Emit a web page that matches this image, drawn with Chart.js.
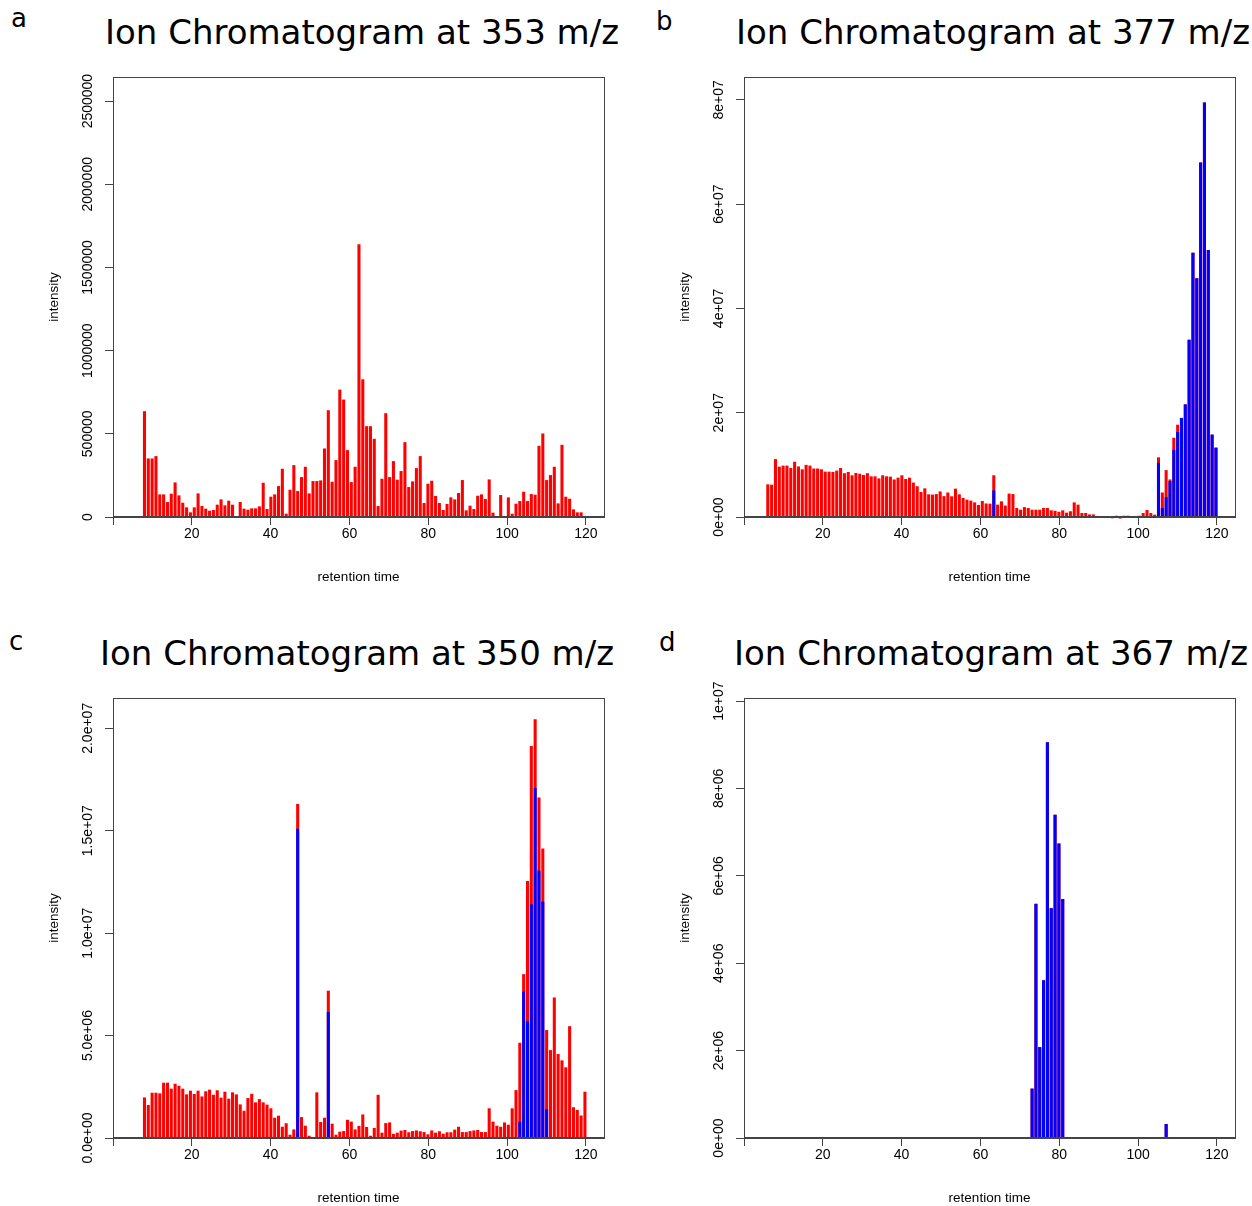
<!DOCTYPE html>
<html>
<head>
<meta charset="utf-8">
<script src="https://cdn.jsdelivr.net/npm/chart.js@4.4.1/dist/chart.umd.min.js"></script>
<style>
  body { margin: 0; width: 1252px; height: 1206px; background: #fff; position: relative; overflow: hidden; }
  canvas { position: absolute; }
  .letter { position: absolute; font: 26px "DejaVu Sans"; color: #000; line-height: normal; }
  .title { position: absolute; width: 600px; text-align: center; font: 34px "DejaVu Sans"; color: #000; white-space: nowrap; line-height: normal; }
</style>
</head>
<body>
<div class="letter" style="left:11px;top:3px">a</div>
<div class="letter" style="left:656px;top:6px">b</div>
<div class="letter" style="left:9px;top:626px">c</div>
<div class="letter" style="left:659px;top:627px">d</div>

<div class="title" style="left:62px;top:12px">Ion Chromatogram at 353 m/z</div>
<div class="title" style="left:693px;top:12px">Ion Chromatogram at 377 m/z</div>
<div class="title" style="left:57px;top:633px">Ion Chromatogram at 350 m/z</div>
<div class="title" style="left:691px;top:633px">Ion Chromatogram at 367 m/z</div>

<canvas id="chartA" width="630" height="585" style="left:0;top:0"></canvas>
<canvas id="chartB" width="621" height="585" style="left:631px;top:0"></canvas>
<canvas id="chartC" width="630" height="585" style="left:0;top:621px"></canvas>
<canvas id="chartD" width="621" height="585" style="left:631px;top:621px"></canvas>

<script>
// scans: one every ~0.972 min starting at ~6.04 min
const scanCount = 118;
const rtStart = 6.04;
const rtStep = 0.972;
const retentionTimes = Array.from({ length: scanCount }, (_, i) => +(rtStart + i * rtStep).toFixed(3));

const xTicks = [0, 20, 40, 60, 80, 100, 120];
const xTickLabels = ['', '20', '40', '60', '80', '100', '120'];

// a: 353 m/z (total only)
const redA = [
  3000, 3000, 636000, 352000, 352000, 366000, 136000, 136000, 90000, 140000,
  208000, 130000, 86000, 58000, 28000, 58000, 142000, 66000, 50000, 38000,
  42000, 74000, 106000, 70000, 98000, 74000, 0, 90000, 50000, 44000,
  52000, 52000, 64000, 206000, 48000, 122000, 136000, 186000, 290000, 20000,
  164000, 312000, 156000, 240000, 302000, 142000, 216000, 216000, 220000, 412000,
  642000, 212000, 342000, 766000, 706000, 402000, 210000, 302000, 1640000, 828000,
  546000, 546000, 470000, 66000, 230000, 624000, 240000, 336000, 224000, 276000,
  450000, 180000, 214000, 294000, 366000, 84000, 200000, 218000, 126000, 84000,
  42000, 78000, 118000, 106000, 144000, 222000, 40000, 68000, 48000, 128000,
  136000, 108000, 226000, 26000, 2000, 132000, -4000, 118000, 20000, 80000,
  96000, 152000, 96000, 138000, 134000, 428000, 502000, 222000, 252000, 302000,
  82000, 434000, 122000, 110000, 46000, 28000, 28000, 0
];
const blueAScans = [];
const blueAValues = [];
const yTicksA = [0, 500000, 1000000, 1500000, 2000000, 2500000];
const yLabelsA = ['0', '500000', '1000000', '1500000', '2000000', '2500000'];
const yMaxA = 2645000;

// b: 377 m/z
const redB = [
  6.27e6, 6.2e6, 11.1e6, 9.66e6, 9.86e6, 9.86e6, 9.4e6, 10.6e6, 9.7e6, 9.15e6,
  10.0e6, 9.86e6, 9.3e6, 9.3e6, 9.15e6, 8.7e6, 8.7e6, 8.64e6, 8.9e6, 9.4e6,
  8.4e6, 8.64e6, 8.0e6, 8.45e6, 8.3e6, 8.06e6, 8.4e6, 7.8e6, 7.8e6, 7.4e6,
  8.0e6, 7.8e6, 7.74e6, 7.2e6, 7.55e6, 8.0e6, 7.3e6, 7.55e6, 6.6e6, 5.9e6,
  4.8e6, 5.5e6, 4.35e6, 4.3e6, 4.4e6, 4.9e6, 4.0e6, 4.7e6, 3.97e6, 5.44e6,
  4.35e6, 3.65e6, 3.33e6, 3.14e6, 2.8e6, 2.3e6, 3.07e6, 2.6e6, 2.56e6, 8.0e6,
  2.37e6, 3.0e6, 2.2e6, 4.5e6, 4.4e6, 1.73e6, 1.4e6, 1.9e6, 1.73e6, 1.4e6,
  1.4e6, 1.4e6, 1.73e6, 1.73e6, 1.28e6, 1.2e6, 1.0e6, 1.28e6, 0.83e6, 1.1e6,
  2.8e6, 2.37e6, 0.77e6, 0.77e6, 0.5e6, 0.5e6, 0.2e6, 0.05e6, -0.2e6, 0.05e6,
  -0.25e6, 0.25e6, -0.3e6, 0.25e6, 0.25e6, 0.2e6, 0.2e6, 0.25e6, 0.77e6, 1.35e6,
  0.77e6, 0.45e6, 11.45e6, 4.7e6, 9.0e6, 7.2e6, 15.2e6, 17.7e6, 19.0e6, 21.6e6,
  34.0e6, 50.7e6, 45.8e6, 68.0e6, 79.5e6, 51.2e6, 15.8e6, 13.3e6
];
const blueBScans = [59, 102, 103, 104, 105, 106, 107, 108, 109, 110, 111, 112, 113, 114, 115, 116, 117];
const blueBValues = [5.1e6, 10.4e6, 1.73e6, 3.8e6, 6.9e6, 12.9e6, 16.3e6, 19.0e6, 21.6e6, 34.0e6, 50.7e6, 45.8e6, 68.0e6, 79.5e6, 51.2e6, 15.8e6, 13.3e6];
const yTicksB = [0, 2e7, 4e7, 6e7, 8e7];
const yLabelsB = ['0e+00', '2e+07', '4e+07', '6e+07', '8e+07'];
const yMaxB = 8.44e7;

// c: 350 m/z
const redC = [
  0, 0, 1.98e6, 1.61e6, 2.21e6, 2.21e6, 2.18e6, 2.70e6, 2.70e6, 2.41e6,
  2.65e6, 2.55e6, 2.41e6, 2.13e6, 2.31e6, 2.15e6, 2.31e6, 2.03e6, 2.28e6, 2.36e6,
  2.11e6, 2.33e6, 1.97e6, 2.26e6, 1.92e6, 2.23e6, 2.13e6, 1.64e6, 1.33e6, 1.95e6,
  2.16e6, 1.74e6, 1.90e6, 1.74e6, 1.63e6, 1.45e6, 0.99e6, 1.09e6, 0.55e6, 0.72e6,
  0.16e6, 0.42e6, 16.3e6, 1.02e6, 0.6e6, 0.11e6, 0, 2.23e6, 0.78e6, 0.99e6,
  7.19e6, 0.7e6, 0.16e6, 0.31e6, 0.34e6, 0.89e6, 0.8e6, 0.42e6, 0.59e6, 1.15e6,
  0.54e6, 0.11e6, 0.49e6, 2.11e6, 0.26e6, 0.73e6, 0.76e6, 0.2e6, 0.26e6, 0.36e6,
  0.39e6, 0.28e6, 0.34e6, 0.37e6, 0.33e6, 0.29e6, 0.18e6, 0.37e6, 0.26e6, 0.33e6,
  0.21e6, 0.28e6, 0.28e6, 0.41e6, 0.55e6, 0.29e6, 0.29e6, 0.34e6, 0.37e6, 0.39e6,
  0.29e6, 0.29e6, 1.45e6, 0.8e6, 0.6e6, 0.55e6, 0.76e6, 0.65e6, 1.45e6, 2.34e6,
  4.65e6, 8.0e6, 12.55e6, 19.14e6, 20.44e6, 16.62e6, 14.13e6, 5.27e6, 4.29e6, 6.86e6,
  4.1e6, 3.79e6, 3.45e6, 5.46e6, 1.5e6, 1.37e6, 1.1e6, 2.26e6
];
const blueCScans = [42, 50, 100, 101, 102, 103, 104, 105, 106, 107];
const blueCValues = [15.1e6, 6.15e6, 0.81e6, 7.15e6, 5.69e6, 11.41e6, 17.09e6, 13.06e6, 11.54e6, 1.4e6];
const yTicksC = [0, 5e6, 1e7, 1.5e7, 2e7];
const yLabelsC = ['0.0e+00', '5.0e+06', '1.0e+07', '1.5e+07', '2.0e+07'];
const yMaxC = 2.148e7;

// d: 367 m/z (total and matched coincide)
const redDScans = [69, 70, 71, 72, 73, 74, 75, 76, 77, 104];
const redDValues = [1.13e6, 5.36e6, 2.08e6, 3.61e6, 9.06e6, 5.26e6, 7.40e6, 6.74e6, 5.47e6, 0.32e6];
const blueDScans = [69, 70, 71, 72, 73, 74, 75, 76, 77, 104];
const blueDValues = [1.13e6, 5.36e6, 2.08e6, 3.61e6, 9.06e6, 5.26e6, 7.40e6, 6.74e6, 5.47e6, 0.32e6];
const yTicksD = [0, 2e6, 4e6, 6e6, 8e6, 1e7];
const yLabelsD = ['0e+00', '2e+06', '4e+06', '6e+06', '8e+06', '1e+07'];
const yMaxD = 1.007e7;

const allScans = retentionTimes.map((_, i) => i);

function points(scans, values) {
  return scans.map((s, i) => ({ x: retentionTimes[s], y: values[i] }));
}

const frame = {
  id: 'frame',
  afterDraw(chart) {
    const { ctx, chartArea: a } = chart;
    ctx.save();
    ctx.strokeStyle = '#444';
    ctx.lineWidth = 1;
    ctx.strokeRect(Math.round(a.left) + 0.5, Math.round(a.top) + 0.5,
      Math.round(a.right - a.left), Math.round(a.bottom - a.top) - 1);
    ctx.restore();
  }
};

const tickFont = { family: 'Liberation Sans', size: 14 };
const titleFont = { family: 'Liberation Sans', size: 13.5 };

function drawPanel(id, red, blue, yTicks, yLabels, yMax, padRight) {
  const canvas = document.getElementById(id);
  const m = canvas.getContext('2d');
  m.font = '14px "Liberation Sans"';
  const widest = Math.max(...yLabels.map(s => m.measureText(s).width));

  new Chart(canvas, {
    type: 'bar',
    data: {
      datasets: [
        { label: 'matched', data: blue, backgroundColor: '#0000ff', order: 0 },
        { label: 'total', data: red, backgroundColor: '#ff0000', order: 1 }
      ]
    },
    options: {
      responsive: false,
      animation: false,
      events: [],
      layout: { padding: { left: 0, top: 77, right: padRight, bottom: 0 } },
      datasets: {
        bar: { grouped: false, barPercentage: 0.8, categoryPercentage: 1, borderWidth: 0, clip: false }
      },
      plugins: {
        legend: { display: false },
        tooltip: { enabled: false },
        title: { display: false }
      },
      scales: {
        x: {
          type: 'linear',
          min: 0,
          max: 124.6,
          offset: false,
          afterFit: s => { s.height = 68; },
          afterBuildTicks: s => { s.ticks = xTicks.map(v => ({ value: v })); },
          ticks: {
            callback: v => xTickLabels[xTicks.indexOf(v)],
            autoSkip: false, maxRotation: 0, padding: 1,
            font: tickFont, color: '#000'
          },
          grid: { offset: false, drawOnChartArea: false, tickLength: 8, tickColor: '#444', color: '#444' },
          border: { color: '#444' },
          title: { display: true, text: 'retention time', font: titleFont, color: '#000', padding: { top: 0, bottom: 0 } }
        },
        y: {
          min: 0,
          max: yMax,
          afterFit: s => { s.width = 113; },
          afterBuildTicks: s => { s.ticks = yTicks.map(v => ({ value: v })); },
          ticks: {
            callback: v => yLabels[yTicks.indexOf(v)],
            autoSkip: false, minRotation: 90, maxRotation: 90,
            crossAlign: 'center', padding: 17 - widest / 2,
            font: tickFont, color: '#000'
          },
          grid: { drawOnChartArea: false, tickLength: 8, tickColor: '#444', color: '#444' },
          border: { color: '#444' },
          title: { display: true, text: 'intensity', font: titleFont, color: '#000', padding: { top: 46, bottom: 0 } }
        }
      }
    },
    plugins: [frame]
  });
}

drawPanel('chartA', points(allScans, redA), points(blueAScans, blueAValues), yTicksA, yLabelsA, yMaxA, 26);
drawPanel('chartB', points(allScans, redB), points(blueBScans, blueBValues), yTicksB, yLabelsB, yMaxB, 17);
drawPanel('chartC', points(allScans, redC), points(blueCScans, blueCValues), yTicksC, yLabelsC, yMaxC, 26);
drawPanel('chartD', points(redDScans, redDValues), points(blueDScans, blueDValues), yTicksD, yLabelsD, yMaxD, 17);
</script>
</body>
</html>
